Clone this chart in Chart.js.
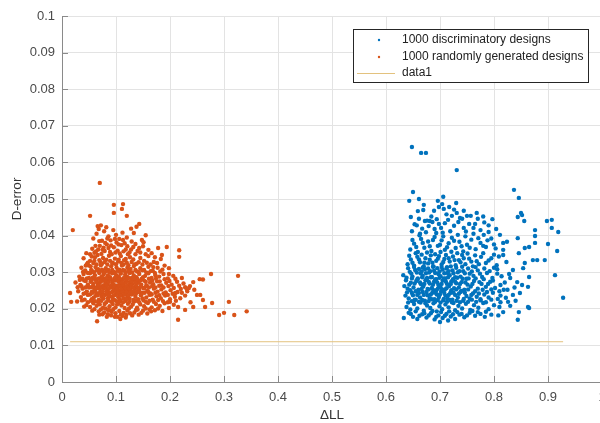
<!DOCTYPE html>
<html><head><meta charset="utf-8">
<script src="https://cdn.jsdelivr.net/npm/chart.js@4"></script>
<style>
html,body{margin:0;padding:0;overflow:hidden;background:#fff;width:600px;height:423px}
#wrap{position:relative;width:640px;height:423px}
</style></head>
<body><div id="wrap"><canvas id="c" width="640" height="423"></canvas></div>
<script>
const seriesLabels = ['1000 discriminatory designs', '1000 randomly generated designs', 'data1'];
const xTickLabels = ['0','0.1','0.2','0.3','0.4','0.5','0.6','0.7','0.8','0.9','1'];
const yTickLabels = ['0','0.01','0.02','0.03','0.04','0.05','0.06','0.07','0.08','0.09','0.1'];
const xAxisTitle = '\u0394LL';
const yAxisTitle = 'D-error';

// [ΔLL, D-error] pairs
const discriminatory = [
[0.65,0.0178],[0.658,0.0172],[0.667,0.0185],[0.675,0.0176],[0.683,0.0188],[0.69,0.0171],[0.697,0.0182],[0.7,0.0164],[0.705,0.0175],[0.712,0.0186],[0.72,0.0179],[0.728,0.0172],[0.736,0.0184],[0.745,0.0177],[0.755,0.0189],[0.765,0.0181],[0.775,0.0186],[0.633,0.0175],[0.642,0.0189],[0.715,0.0168],
[0.638,0.0205],[0.645,0.0198],[0.652,0.0213],[0.658,0.0201],[0.664,0.0217],[0.67,0.0195],[0.676,0.0209],[0.682,0.0202],[0.688,0.0215],[0.694,0.0193],[0.699,0.0207],[0.704,0.0199],[0.71,0.0212],[0.716,0.0204],[0.722,0.0218],[0.728,0.0196],[0.734,0.0208],[0.741,0.0201],[0.748,0.0214],[0.756,0.0197],[0.763,0.021],[0.771,0.0203],[0.78,0.0216],[0.79,0.0199],[0.8,0.021],[0.81,0.0205],[0.817,0.0191],[0.83,0.0208],[0.865,0.0202],[0.846,0.0191],[0.844,0.017],[0.863,0.0205],
[0.636,0.0236],[0.642,0.0228],[0.648,0.0243],[0.653,0.0224],[0.658,0.0238],[0.663,0.0231],[0.668,0.0246],[0.672,0.0222],[0.677,0.0237],[0.681,0.0229],[0.686,0.0244],[0.69,0.0226],[0.694,0.0239],[0.698,0.0232],[0.702,0.0247],[0.706,0.0223],[0.71,0.0236],[0.714,0.0229],[0.719,0.0243],[0.723,0.0225],[0.728,0.0238],[0.733,0.0231],[0.738,0.0246],[0.743,0.0222],[0.749,0.0235],[0.755,0.0228],[0.761,0.0242],[0.768,0.0233],[0.775,0.0226],[0.782,0.0239],[0.79,0.0231],[0.798,0.0244],[0.807,0.0227],[0.822,0.023],[0.835,0.0238],[0.848,0.0243],[0.928,0.023],
[0.634,0.0262],[0.64,0.0255],[0.646,0.0271],[0.651,0.0258],[0.656,0.0276],[0.66,0.0252],[0.665,0.0267],[0.669,0.0261],[0.673,0.0278],[0.677,0.0254],[0.681,0.0269],[0.685,0.0257],[0.689,0.0274],[0.693,0.0251],[0.697,0.0265],[0.701,0.0259],[0.705,0.0277],[0.709,0.0253],[0.713,0.0268],[0.717,0.0262],[0.721,0.0275],[0.726,0.0256],[0.73,0.027],[0.735,0.0258],[0.74,0.0273],[0.745,0.0252],[0.751,0.0266],[0.757,0.0261],[0.763,0.0276],[0.77,0.0255],[0.777,0.0268],[0.785,0.026],[0.793,0.0274],[0.802,0.0257],[0.812,0.0265],[0.843,0.0273],[0.852,0.0265],[0.863,0.026],
[0.632,0.0292],[0.638,0.0285],[0.644,0.0301],[0.649,0.0288],[0.654,0.0306],[0.659,0.0283],[0.664,0.0297],[0.668,0.029],[0.672,0.0308],[0.676,0.0284],[0.68,0.0299],[0.685,0.0287],[0.689,0.0304],[0.693,0.0281],[0.697,0.0295],[0.701,0.0289],[0.705,0.0307],[0.71,0.0283],[0.714,0.0298],[0.718,0.0292],[0.723,0.0305],[0.728,0.0286],[0.733,0.03],[0.738,0.0288],[0.743,0.0303],[0.749,0.0282],[0.755,0.0296],[0.762,0.029],[0.77,0.0305],[0.778,0.0287],[0.787,0.0298],[0.797,0.0284],[0.806,0.0296],[0.83,0.0284],[0.835,0.0306],[0.865,0.0287],[0.854,0.0311],[0.913,0.0292],
[0.64,0.0322],[0.646,0.0335],[0.652,0.0318],[0.658,0.0342],[0.663,0.0327],[0.668,0.0313],[0.673,0.0338],[0.678,0.0324],[0.683,0.0346],[0.688,0.0316],[0.693,0.0331],[0.698,0.0344],[0.703,0.0321],[0.708,0.0336],[0.713,0.0314],[0.718,0.0329],[0.724,0.0343],[0.729,0.0319],[0.735,0.0333],[0.741,0.0347],[0.747,0.0322],[0.754,0.0337],[0.761,0.0316],[0.768,0.033],[0.776,0.0342],[0.785,0.0325],[0.795,0.0338],[0.805,0.0319],[0.857,0.0325],[0.872,0.0333],[0.88,0.0333],[0.894,0.0333],
[0.645,0.0362],[0.652,0.0378],[0.659,0.0355],[0.665,0.0391],[0.671,0.0367],[0.678,0.0384],[0.684,0.0358],[0.69,0.0396],[0.696,0.0372],[0.703,0.0387],[0.709,0.0361],[0.716,0.0379],[0.722,0.0394],[0.729,0.0366],[0.736,0.0383],[0.743,0.0357],[0.75,0.0375],[0.758,0.0389],[0.766,0.0363],[0.775,0.038],[0.785,0.0369],[0.795,0.0392],[0.817,0.0361],[0.817,0.038],[0.824,0.0383],[0.846,0.0352],[0.857,0.0366],[0.865,0.0369],[0.876,0.038],[0.9,0.0377],[0.917,0.0358],[0.817,0.0347],[0.844,0.0393],[0.876,0.0399],
[0.648,0.0412],[0.657,0.0428],[0.663,0.0405],[0.672,0.044],[0.676,0.0441],[0.681,0.044],[0.686,0.0437],[0.69,0.0418],[0.698,0.0432],[0.705,0.0408],[0.715,0.0443],[0.722,0.0454],[0.731,0.0462],[0.737,0.0448],[0.744,0.0421],[0.75,0.0454],[0.757,0.0454],[0.765,0.0432],[0.775,0.0415],[0.79,0.0428],[0.804,0.0418],[0.811,0.0402],[0.646,0.0451],[0.659,0.0467],[0.669,0.047],[0.698,0.0478],[0.707,0.0473],[0.717,0.0478],[0.844,0.0451],[0.85,0.0462],[0.852,0.0456],[0.856,0.044],[0.898,0.044],[0.907,0.0443],[0.907,0.0421],[0.919,0.041],[0.876,0.0415],
[0.648,0.0642],[0.665,0.0626],[0.674,0.0626],[0.731,0.0579],[0.65,0.0519],[0.643,0.0495],[0.661,0.05],[0.67,0.0484],[0.696,0.0495],[0.706,0.0506],[0.704,0.0486],[0.73,0.0489],[0.837,0.0525],[0.846,0.0503],
[0.646,0.0186],[0.655,0.0193],[0.662,0.0181],[0.671,0.0188],[0.679,0.0182],[0.686,0.0194],[0.693,0.0178],[0.702,0.0191],[0.709,0.0181],[0.717,0.0193],[0.724,0.0185],[0.732,0.0191],[0.74,0.0186],[0.75,0.0182],[0.76,0.0194],[0.77,0.0191],[0.785,0.0192],[0.795,0.0184],
[0.641,0.0217],[0.648,0.0221],[0.655,0.0225],[0.661,0.0219],[0.667,0.0224],[0.673,0.0215],[0.679,0.0221],[0.685,0.0226],[0.691,0.0219],[0.696,0.0224],[0.701,0.0217],[0.707,0.0227],[0.713,0.0219],[0.719,0.0224],[0.725,0.0216],[0.731,0.0222],[0.737,0.0218],[0.744,0.0227],[0.752,0.0219],[0.759,0.0225],[0.767,0.0219],[0.775,0.0223],[0.785,0.0218],[0.795,0.0225],[0.812,0.0218],
[0.639,0.0245],[0.645,0.0251],[0.65,0.0237],[0.655,0.0248],[0.661,0.0243],[0.666,0.0254],[0.67,0.0238],[0.675,0.0246],[0.679,0.0253],[0.683,0.0239],[0.688,0.0251],[0.692,0.0244],[0.696,0.0255],[0.7,0.0239],[0.704,0.0252],[0.708,0.0243],[0.712,0.0256],[0.716,0.0238],[0.721,0.0251],[0.725,0.0244],[0.73,0.0253],[0.735,0.0241],[0.74,0.0249],[0.746,0.0244],[0.752,0.0253],[0.758,0.0238],[0.765,0.0248],[0.772,0.0242],[0.779,0.0252],[0.787,0.0246],[0.795,0.0253],[0.81,0.0248],[0.825,0.0252],
[0.637,0.0278],[0.643,0.0266],[0.648,0.0283],[0.653,0.0269],[0.658,0.0281],[0.663,0.0272],[0.667,0.0286],[0.671,0.0268],[0.675,0.0281],[0.679,0.0274],[0.683,0.0286],[0.687,0.0266],[0.691,0.028],[0.695,0.0272],[0.699,0.0285],[0.703,0.0268],[0.707,0.0283],[0.711,0.0274],[0.715,0.0286],[0.72,0.0268],[0.724,0.0281],[0.728,0.0274],[0.732,0.0285],[0.737,0.0268],[0.742,0.0282],[0.747,0.0272],[0.753,0.0283],[0.76,0.0268],[0.766,0.0283],[0.773,0.0273],[0.781,0.0281],[0.789,0.0268],[0.798,0.0277],[0.82,0.0272],
[0.641,0.0311],[0.647,0.0296],[0.652,0.0314],[0.657,0.0299],[0.661,0.0309],[0.666,0.0302],[0.67,0.0316],[0.674,0.0297],[0.678,0.031],[0.682,0.0303],[0.687,0.0315],[0.691,0.0298],[0.695,0.0311],[0.699,0.0302],[0.703,0.0314],[0.708,0.0297],[0.712,0.031],[0.716,0.0303],[0.72,0.0316],[0.725,0.0297],[0.73,0.0312],[0.736,0.0303],[0.741,0.0315],[0.746,0.0297],[0.752,0.031],[0.759,0.0302],[0.766,0.0314],[0.774,0.0296],[0.782,0.031],[0.792,0.0303],[0.8,0.0312],
[0.643,0.0345],[0.649,0.0326],[0.655,0.0352],[0.661,0.0335],[0.666,0.0348],[0.671,0.0326],[0.676,0.0354],[0.681,0.0334],[0.686,0.0326],[0.691,0.0349],[0.696,0.0337],[0.701,0.0355],[0.706,0.0328],[0.711,0.0347],[0.716,0.0338],[0.721,0.0356],[0.727,0.0333],[0.732,0.0352],[0.738,0.0327],[0.744,0.0338],[0.751,0.0351],[0.758,0.0329],[0.765,0.0346],[0.772,0.0322],[0.78,0.0352],[0.79,0.0332],[0.8,0.0348],
[0.649,0.0388],[0.656,0.0369],[0.662,0.0401],[0.668,0.038],[0.674,0.0409],[0.681,0.0371],[0.687,0.0388],[0.693,0.0407],[0.7,0.0375],[0.706,0.0398],[0.713,0.0368],[0.719,0.0412],[0.726,0.0386],[0.733,0.0402],[0.74,0.0371],[0.747,0.0398],[0.755,0.0367],[0.762,0.0405],[0.771,0.0393],[0.78,0.0372],[0.79,0.041],[0.8,0.0376],
[0.653,0.0431],[0.661,0.0446],[0.667,0.0419],[0.679,0.0426],[0.684,0.0452],[0.694,0.0445],[0.702,0.0421],[0.709,0.0434],[0.712,0.0458],[0.726,0.0427],[0.734,0.0437],[0.741,0.0446],[0.748,0.0411],[0.754,0.0432],[0.762,0.0421],[0.77,0.0446],[0.782,0.0436],[0.797,0.0445],[0.781,0.0402],[0.788,0.0387],[0.803,0.0365],[0.809,0.0343],[0.806,0.0308],[0.814,0.0289],[0.818,0.0252],[0.812,0.0236],[0.826,0.0219],[0.808,0.0182],[0.783,0.0178],[0.823,0.0328],[0.828,0.0295],[0.838,0.0258],[0.84,0.0222],[0.689,0.0468],[0.726,0.0471],[0.744,0.0468],[0.768,0.0462],[0.78,0.0452]
];

const randomlyGenerated = [
[0.065,0.0166],[0.078,0.019],[0.085,0.0185],[0.092,0.0192],[0.103,0.0178],[0.108,0.0172],[0.112,0.0181],[0.118,0.0176],[0.126,0.0188],[0.134,0.019],[0.142,0.0184],[0.15,0.0195],[0.158,0.0187],[0.165,0.0193],[0.172,0.0196],[0.095,0.0199],[0.072,0.0198],[0.06,0.0199],[0.13,0.0182],[0.121,0.0195],
[0.045,0.021],[0.052,0.0205],[0.058,0.0215],[0.064,0.0208],[0.07,0.0212],[0.076,0.0203],[0.082,0.0218],[0.088,0.0207],[0.094,0.0213],[0.099,0.0204],[0.105,0.0216],[0.11,0.0209],[0.116,0.0202],[0.122,0.0214],[0.128,0.0206],[0.133,0.0219],[0.139,0.0203],[0.145,0.0212],[0.152,0.0207],[0.159,0.0216],[0.166,0.0204],[0.174,0.0213],[0.181,0.0208],[0.19,0.0215],[0.198,0.0202],[0.207,0.0211],[0.028,0.022],[0.215,0.0205],
[0.035,0.0232],[0.042,0.0225],[0.048,0.0238],[0.054,0.0222],[0.059,0.0231],[0.063,0.0236],[0.068,0.0224],[0.073,0.0233],[0.077,0.0228],[0.081,0.0239],[0.086,0.0223],[0.09,0.0234],[0.094,0.0227],[0.098,0.0238],[0.101,0.0221],[0.104,0.0232],[0.107,0.0226],[0.111,0.0237],[0.114,0.0229],[0.118,0.0222],[0.121,0.0235],[0.125,0.0228],[0.129,0.0239],[0.132,0.0224],[0.136,0.0233],[0.141,0.0226],[0.146,0.0237],[0.151,0.0223],[0.156,0.0231],[0.162,0.0238],[0.168,0.0225],[0.175,0.0234],[0.183,0.0229],[0.191,0.0236],[0.2,0.0226],[0.209,0.0233],[0.219,0.0229],[0.228,0.0236],
[0.03,0.0248],[0.038,0.0255],[0.044,0.0243],[0.05,0.0258],[0.055,0.0246],[0.06,0.0253],[0.064,0.0241],[0.067,0.0257],[0.071,0.0249],[0.074,0.0242],[0.078,0.0256],[0.082,0.0247],[0.085,0.0252],[0.088,0.0244],[0.091,0.0259],[0.094,0.0248],[0.097,0.0254],[0.1,0.0242],[0.103,0.0257],[0.106,0.0249],[0.109,0.0245],[0.112,0.0258],[0.115,0.025],[0.118,0.0243],[0.121,0.0255],[0.124,0.0247],[0.127,0.0252],[0.131,0.0241],[0.135,0.0256],[0.139,0.0248],[0.143,0.0253],[0.148,0.0244],[0.153,0.0257],[0.158,0.0249],[0.164,0.0242],[0.17,0.0255],[0.177,0.0247],[0.184,0.0253],[0.192,0.0245],[0.201,0.0251],[0.21,0.0243],[0.22,0.0254],[0.232,0.0248],[0.245,0.0252],
[0.025,0.0272],[0.034,0.0265],[0.041,0.0277],[0.047,0.0262],[0.053,0.0274],[0.058,0.0268],[0.062,0.0279],[0.066,0.0263],[0.07,0.0271],[0.073,0.0276],[0.077,0.0264],[0.08,0.0273],[0.084,0.0267],[0.087,0.0278],[0.09,0.0261],[0.093,0.0272],[0.096,0.0266],[0.099,0.0277],[0.102,0.0263],[0.105,0.0274],[0.108,0.0268],[0.111,0.0279],[0.114,0.0262],[0.117,0.0271],[0.12,0.0276],[0.123,0.0265],[0.126,0.0273],[0.13,0.0268],[0.134,0.0278],[0.138,0.0262],[0.142,0.0271],[0.147,0.0266],[0.152,0.0277],[0.157,0.0263],[0.163,0.0272],[0.169,0.0267],[0.176,0.0275],[0.184,0.0264],[0.193,0.0271],[0.203,0.0266],[0.213,0.0274],[0.225,0.0269],[0.237,0.0262],
[0.032,0.0288],[0.04,0.0295],[0.046,0.0283],[0.052,0.0297],[0.057,0.0285],[0.061,0.0292],[0.065,0.0281],[0.069,0.0298],[0.073,0.0287],[0.077,0.0294],[0.081,0.0282],[0.085,0.0291],[0.089,0.0286],[0.093,0.0297],[0.097,0.0283],[0.101,0.0292],[0.105,0.0288],[0.109,0.0296],[0.113,0.0281],[0.117,0.0293],[0.121,0.0287],[0.125,0.0298],[0.129,0.0284],[0.133,0.0291],[0.138,0.0286],[0.143,0.0295],[0.148,0.0282],[0.154,0.029],[0.16,0.0297],[0.166,0.0284],[0.173,0.0292],[0.18,0.0288],[0.188,0.0295],[0.196,0.0283],[0.206,0.029],[0.255,0.0281],
[0.036,0.0312],[0.043,0.0305],[0.05,0.0318],[0.056,0.0303],[0.062,0.0314],[0.067,0.0308],[0.072,0.0319],[0.076,0.0302],[0.081,0.0311],[0.086,0.0306],[0.091,0.0316],[0.096,0.0301],[0.101,0.0313],[0.106,0.0307],[0.111,0.0318],[0.116,0.0304],[0.121,0.0312],[0.127,0.0309],[0.133,0.0317],[0.139,0.0302],[0.145,0.0311],[0.152,0.0306],[0.16,0.0315],[0.168,0.0304],[0.177,0.0312],[0.186,0.0307],[0.198,0.0311],
[0.04,0.0338],[0.048,0.0326],[0.055,0.0343],[0.06,0.0331],[0.066,0.0347],[0.071,0.0328],[0.076,0.0339],[0.082,0.0334],[0.087,0.0345],[0.093,0.0323],[0.098,0.0337],[0.104,0.0329],[0.109,0.0344],[0.115,0.0333],[0.12,0.0326],[0.126,0.0341],[0.132,0.0335],[0.138,0.0323],[0.145,0.0339],[0.152,0.0331],[0.16,0.0344],[0.17,0.0328],[0.183,0.0336],
[0.045,0.0352],[0.056,0.0364],[0.063,0.0357],[0.07,0.0372],[0.075,0.0361],[0.083,0.0376],[0.089,0.0355],[0.096,0.0368],[0.103,0.0359],[0.11,0.0374],[0.118,0.0362],[0.125,0.0354],[0.132,0.0369],[0.14,0.0358],[0.15,0.0371],[0.16,0.0361],[0.178,0.0366],[0.185,0.0347],[0.194,0.0369],
[0.058,0.0392],[0.064,0.0405],[0.068,0.0418],[0.074,0.0386],[0.078,0.0412],[0.082,0.0423],[0.086,0.0398],[0.09,0.0387],[0.095,0.0415],[0.1,0.0402],[0.106,0.0391],[0.112,0.0408],[0.12,0.0395],[0.128,0.0419],[0.133,0.0407],[0.138,0.0424],[0.143,0.0432],[0.148,0.0388],[0.155,0.0401],[0.066,0.0426],[0.072,0.0428],
[0.07,0.0544],[0.096,0.0484],[0.113,0.0486],[0.096,0.0462],[0.111,0.0473],[0.12,0.0454],[0.052,0.0454],[0.02,0.0415],[0.015,0.0243],[0.017,0.0219],[0.276,0.0295],[0.326,0.029],[0.342,0.0193],[0.319,0.0183],[0.3,0.0189],[0.291,0.0183],[0.309,0.0219],[0.278,0.0216],[0.261,0.028],[0.243,0.0273],[0.215,0.017],[0.217,0.036],[0.217,0.0342],[0.222,0.0284],[0.231,0.0254],[0.256,0.0238],[0.261,0.0224],[0.243,0.0205],[0.228,0.0197],[0.25,0.0238],[0.265,0.0205],[0.238,0.0218],
[0.068,0.0193],[0.081,0.0201],[0.088,0.0196],[0.099,0.0188],[0.106,0.0194],[0.114,0.0189],[0.124,0.0201],[0.137,0.0197],[0.147,0.0189],[0.155,0.0201],[0.109,0.0184],[0.098,0.0178],[0.119,0.0183],[0.085,0.0197],[0.075,0.0185],
[0.048,0.0218],[0.055,0.0226],[0.061,0.0221],[0.067,0.0217],[0.073,0.0222],[0.079,0.0213],[0.085,0.0229],[0.091,0.0219],[0.097,0.0224],[0.102,0.0212],[0.108,0.0221],[0.113,0.0218],[0.119,0.0227],[0.125,0.0219],[0.131,0.0212],[0.137,0.0222],[0.143,0.0218],[0.149,0.0228],[0.155,0.0219],[0.162,0.0222],[0.17,0.0219],[0.178,0.0224],[0.187,0.0221],[0.196,0.0218],
[0.04,0.0241],[0.046,0.0247],[0.052,0.0239],[0.057,0.0244],[0.062,0.0248],[0.066,0.0237],[0.07,0.0243],[0.075,0.0248],[0.079,0.0238],[0.083,0.0243],[0.087,0.0236],[0.092,0.0245],[0.096,0.0236],[0.1,0.0249],[0.104,0.0241],[0.108,0.0236],[0.112,0.0247],[0.116,0.0239],[0.12,0.0246],[0.123,0.0237],[0.127,0.0244],[0.133,0.0248],[0.137,0.0241],[0.142,0.0246],[0.147,0.0239],[0.153,0.0244],[0.16,0.0246],[0.166,0.0239],[0.173,0.0244],[0.18,0.0237],[0.188,0.0242],[0.196,0.0238],[0.205,0.0241],[0.214,0.0246],
[0.036,0.0262],[0.043,0.0258],[0.048,0.0266],[0.054,0.0259],[0.058,0.0263],[0.063,0.0257],[0.068,0.0265],[0.072,0.0259],[0.076,0.0263],[0.08,0.0258],[0.083,0.0265],[0.087,0.0256],[0.091,0.0264],[0.095,0.0258],[0.098,0.0262],[0.102,0.0255],[0.106,0.0262],[0.11,0.0256],[0.113,0.0265],[0.117,0.0257],[0.12,0.0262],[0.124,0.0256],[0.128,0.0263],[0.132,0.0258],[0.137,0.0264],[0.141,0.0257],[0.146,0.0261],[0.151,0.0256],[0.156,0.0264],[0.161,0.0258],[0.167,0.0262],[0.173,0.0258],[0.18,0.0263],[0.188,0.0258],[0.197,0.0262],[0.207,0.0257],[0.217,0.0263],[0.228,0.0259],
[0.038,0.0282],[0.044,0.0276],[0.05,0.0284],[0.055,0.0279],[0.06,0.0285],[0.064,0.0273],[0.068,0.0283],[0.072,0.0279],[0.075,0.0286],[0.079,0.0278],[0.083,0.0284],[0.086,0.0273],[0.09,0.0281],[0.095,0.0277],[0.099,0.0286],[0.103,0.0279],[0.107,0.0283],[0.111,0.0272],[0.115,0.0285],[0.119,0.0279],[0.123,0.0284],[0.128,0.0276],[0.132,0.0283],[0.136,0.0272],[0.14,0.0281],[0.145,0.0277],[0.15,0.0286],[0.155,0.0274],[0.161,0.0282],[0.167,0.0277],[0.174,0.0283],[0.181,0.0275],[0.19,0.0281],[0.199,0.0276],[0.21,0.0282],
[0.042,0.0302],[0.048,0.0298],[0.054,0.0306],[0.059,0.0299],[0.064,0.0305],[0.069,0.0301],[0.074,0.0307],[0.079,0.0299],[0.083,0.0304],[0.088,0.0299],[0.093,0.0306],[0.098,0.0298],[0.103,0.0304],[0.108,0.03],[0.113,0.0306],[0.118,0.0299],[0.124,0.0304],[0.13,0.0299],[0.136,0.0306],[0.142,0.0301],[0.149,0.0305],[0.156,0.0299],[0.164,0.0303],[0.172,0.0298],[0.182,0.0302],
[0.046,0.0322],[0.053,0.0316],[0.058,0.0325],[0.064,0.0321],[0.069,0.0333],[0.074,0.0323],[0.079,0.0328],[0.084,0.0321],[0.089,0.0331],[0.094,0.0326],[0.1,0.0322],[0.105,0.0334],[0.11,0.0325],[0.114,0.0321],[0.118,0.0336],[0.123,0.0319],[0.129,0.0328],[0.135,0.0321],[0.142,0.0327],[0.149,0.0321],[0.157,0.0326],[0.164,0.0321],
[0.052,0.0349],[0.06,0.0353],[0.067,0.0362],[0.073,0.035],[0.079,0.0358],[0.086,0.0366],[0.092,0.0349],[0.099,0.0354],[0.107,0.0351],[0.114,0.0357],[0.122,0.0349],[0.128,0.0362],[0.136,0.0349],[0.145,0.0354],[0.155,0.0349],[0.08,0.038],[0.101,0.0381],[0.116,0.0379],
[0.062,0.0372],[0.069,0.0385],[0.077,0.0367],[0.084,0.0392],[0.091,0.0373],[0.098,0.0391],[0.105,0.0376],[0.113,0.0388],[0.121,0.0371],[0.129,0.0384],[0.136,0.0377],[0.143,0.0366],[0.151,0.0382],[0.166,0.0352],[0.172,0.0341],[0.061,0.0341],[0.052,0.0331],[0.044,0.0318],[0.039,0.0301],[0.033,0.0279],[0.029,0.0259],[0.037,0.0223],[0.041,0.0206],[0.056,0.0195],[0.069,0.0184],[0.083,0.0178],[0.091,0.0182],[0.14,0.0198],[0.162,0.0198],[0.178,0.0201],[0.186,0.0194],[0.2,0.0219],[0.211,0.0222],[0.222,0.0244],[0.235,0.0257],[0.198,0.0295],[0.19,0.0318],[0.176,0.0325],[0.169,0.0314]
];

const data1X = [0.015, 0.928];
const data1Y = [0.011, 0.011];

const colors = ['#0072BD', '#D95319', '#E3C27E'];
const FONT = '"Liberation Sans", Arial, sans-serif';

const toPts = arr => arr.map(p => ({x: p[0], y: p[1]}));

const innerTicks = {
  id: 'innerTicks',
  afterDatasetsDraw(chart) {
    const {ctx, chartArea: a, scales: {x, y}} = chart;
    ctx.save();
    ctx.strokeStyle = '#8a8a8a';
    ctx.lineWidth = 1;
    ctx.beginPath();
    x.ticks.forEach(t => {
      const px = Math.round(x.getPixelForValue(t.value)) + 0.5;
      ctx.moveTo(px, a.bottom); ctx.lineTo(px, a.bottom - 6);
    });
    y.ticks.forEach(t => {
      const py = Math.round(y.getPixelForValue(t.value)) + 0.5;
      ctx.moveTo(a.left, py); ctx.lineTo(a.left + 6, py);
    });
    ctx.stroke();
    ctx.restore();
  }
};

const boxLegend = {
  id: 'boxLegend',
  afterDraw(chart) {
    const ctx = chart.ctx;
    const bx = 353.5, by = 29.5, bw = 235, bh = 53;
    ctx.save();
    ctx.fillStyle = '#fff';
    ctx.fillRect(bx, by, bw, bh);
    ctx.strokeStyle = '#262626';
    ctx.lineWidth = 1;
    ctx.strokeRect(bx, by, bw, bh);
    ctx.font = '12px ' + FONT;
    ctx.textBaseline = 'middle';
    const rows = [40, 57, 73];
    chart.data.datasets.forEach((ds, i) => {
      const yy = rows[i];
      if (i < 2) {
        ctx.beginPath();
        ctx.fillStyle = ds.backgroundColor;
        ctx.arc(379, yy, 1.2, 0, Math.PI * 2);
        ctx.fill();
      } else {
        ctx.beginPath();
        ctx.strokeStyle = ds.borderColor;
        ctx.moveTo(357, yy + 0.5); ctx.lineTo(395, yy + 0.5);
        ctx.stroke();
      }
      ctx.fillStyle = '#222';
      ctx.fillText(ds.label, 402, yy);
    });
    ctx.restore();
  }
};

new Chart(document.getElementById('c'), {
  type: 'scatter',
  data: {
    datasets: [
      { label: seriesLabels[0], data: toPts(discriminatory), backgroundColor: colors[0], borderWidth: 0, pointRadius: 2.2 },
      { label: seriesLabels[1], data: toPts(randomlyGenerated), backgroundColor: colors[1], borderWidth: 0, pointRadius: 2.2 },
      { label: seriesLabels[2], type: 'line', data: data1X.map((v, i) => ({x: v, y: data1Y[i]})), borderColor: colors[2], backgroundColor: colors[2], borderWidth: 1, pointRadius: 0, showLine: true, fill: false }
    ]
  },
  options: {
    responsive: false,
    animation: false,
    devicePixelRatio: 1,
    layout: { padding: { top: 16, right: 38, left: 0, bottom: 0 } },
    plugins: { legend: { display: false }, tooltip: { enabled: false } },
    scales: {
      x: {
        type: 'linear', min: 0, max: 1,
        ticks: { stepSize: 0.1, autoSkip: false, maxRotation: 0, padding: 8, color: '#4a4a4a',
          font: { family: FONT, size: 13 },
          callback: (v, i) => xTickLabels[i] },
        grid: { color: '#e3e3e3', drawTicks: false },
        border: { display: true, color: '#8a8a8a', width: 1 },
        title: { display: true, text: xAxisTitle, color: '#333', padding: { top: 0, bottom: 0 },
          font: { family: FONT, size: 13.5 } },
        afterFit: s => { s.height = 41; }
      },
      y: {
        type: 'linear', min: 0, max: 0.1,
        ticks: { stepSize: 0.01, autoSkip: false, padding: 7, color: '#4a4a4a',
          font: { family: FONT, size: 13 },
          callback: (v, i) => yTickLabels[i] },
        grid: { color: '#e3e3e3', drawTicks: false },
        border: { display: true, color: '#8a8a8a', width: 1 },
        title: { display: true, text: yAxisTitle, color: '#333', padding: { top: 9, bottom: 0 },
          font: { family: FONT, size: 13.5 } },
        afterFit: s => { s.width = 62; }
      }
    }
  },
  plugins: [innerTicks, boxLegend]
});
</script>
</body></html>
